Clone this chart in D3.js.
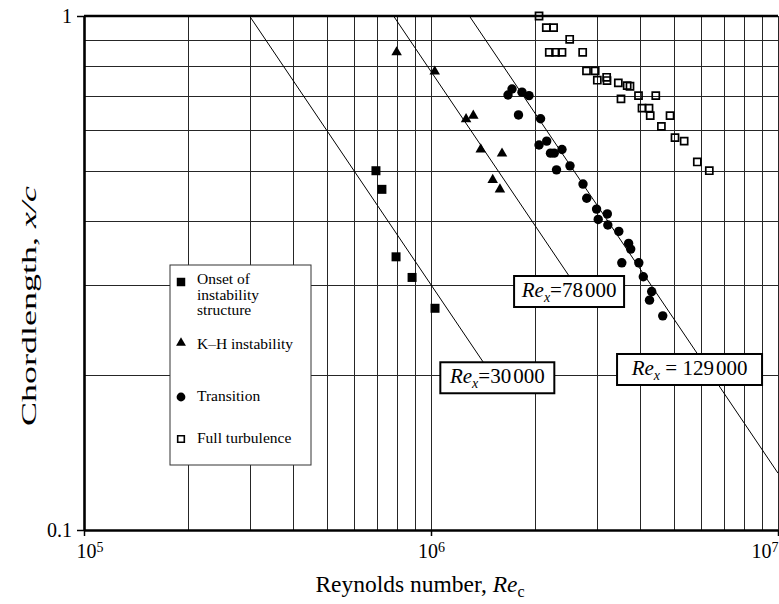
<!DOCTYPE html>
<html>
<head>
<meta charset="utf-8">
<script src="https://cdn.jsdelivr.net/npm/d3@7"></script>
<style>
  html, body { margin: 0; padding: 0; background: #fff; }
  svg { display: block; font-family: "Liberation Serif", "Times New Roman", Times, serif; }
</style>
</head>
<body>
<svg id="chart" width="779" height="604"></svg>
<script>
// ---- data: Reynolds number Re_c and chordwise position x/c for each stage ----
const onsetRe = [6.94e5, 7.22e5, 7.93e5, 8.82e5, 1.027e6];
const onsetXc = [0.50, 0.46, 0.34, 0.31, 0.27];

const khRe = [7.96e5, 1.025e6, 1.262e6, 1.324e6, 1.391e6, 1.602e6, 1.506e6, 1.580e6];
const khXc = [0.85, 0.78, 0.63, 0.64, 0.55, 0.54, 0.48, 0.46];

const transRe = [1.667e6, 1.712e6, 1.829e6, 1.916e6, 1.787e6, 2.069e6, 2.048e6, 2.155e6,
                 2.210e6, 2.265e6, 2.385e6, 2.300e6, 2.515e6, 2.742e6, 2.810e6, 3.000e6,
                 3.222e6, 3.033e6, 3.233e6, 3.477e6, 3.711e6, 3.763e6, 3.547e6, 3.971e6,
                 4.091e6, 4.325e6, 4.263e6, 4.654e6];
const transXc = [0.702, 0.721, 0.711, 0.700, 0.642, 0.631, 0.561, 0.571,
                 0.541, 0.541, 0.550, 0.502, 0.511, 0.471, 0.442, 0.421,
                 0.412, 0.402, 0.392, 0.381, 0.361, 0.352, 0.331, 0.331,
                 0.311, 0.291, 0.280, 0.261];

const turbRe = [2.048e6, 2.149e6, 2.256e6, 2.510e6, 2.192e6, 2.285e6, 2.385e6, 2.736e6,
                2.806e6, 2.973e6, 3.015e6, 3.208e6, 3.215e6, 3.466e6, 3.676e6, 3.745e6,
                3.528e6, 3.963e6, 4.444e6, 4.056e6, 4.249e6, 4.283e6, 4.885e6, 4.613e6,
                5.049e6, 5.365e6, 5.854e6, 6.339e6];
const turbXc = [1.000, 0.949, 0.949, 0.901, 0.850, 0.850, 0.850, 0.850,
                0.782, 0.782, 0.750, 0.760, 0.749, 0.741, 0.732, 0.730,
                0.690, 0.700, 0.700, 0.662, 0.662, 0.640, 0.640, 0.610,
                0.580, 0.571, 0.520, 0.500];

// constant local Reynolds number lines
const reXValues = [30000, 78000, 129000];

// axis ticks and labels
const xTickValues = [1e5, 1e6, 1e7];
const xTickExponents = ["5", "6", "7"];
const yTickValues = [0.1, 1];
const yTickLabels = ["0.1", "1"];

const legendLabels = [["Onset of", "instability", "structure"], ["K\u2013H instability"], ["Transition"], ["Full turbulence"]];

// ---- layout ----
const W = 779, H = 604;
const margin = { top: 16, right: 1, bottom: 74, left: 84 };
const x = d3.scaleLog().domain([1e5, 1e7]).range([margin.left, W - margin.right]);
const y = d3.scaleLog().domain([0.1, 1]).range([H - margin.bottom, margin.top]);
const plotW = x.range()[1] - x.range()[0];
const plotH = y.range()[0] - y.range()[1];
const serif = '"Liberation Serif", "Times New Roman", serif';

const svg = d3.select("#chart");
svg.append("rect").attr("width", W).attr("height", H).attr("fill", "#fff");

svg.append("defs").append("clipPath").attr("id", "plot-clip")
  .append("rect")
  .attr("x", margin.left).attr("y", margin.top)
  .attr("width", plotW).attr("height", plotH);

const gridColor = "#262626";

// vertical grid: 2..9 of every decade plus the decades themselves
svg.append("g")
  .attr("transform", `translate(0,${y.range()[0]})`)
  .call(d3.axisBottom(x).tickValues(x.ticks().filter(v => v > 1.5e5)).tickSize(-plotH).tickFormat(""))
  .call(g => g.select(".domain").remove())
  .call(g => g.selectAll(".tick line").attr("stroke", gridColor).attr("stroke-width", 1)
    .attr("shape-rendering", "crispEdges"));

// horizontal grid: 0.2 .. 0.9
svg.append("g")
  .attr("transform", `translate(${x.range()[0]},0)`)
  .call(d3.axisLeft(y).tickValues(y.ticks().filter(v => v > 0.15 && v < 0.95)).tickSize(-plotW).tickFormat(""))
  .call(g => g.select(".domain").remove())
  .call(g => g.selectAll(".tick line").attr("stroke", gridColor).attr("stroke-width", 1)
    .attr("shape-rendering", "crispEdges"));

// ---- axes ----
const lastX = xTickValues.length - 1;
const xAxis = svg.append("g")
  .attr("transform", `translate(0,${y.range()[0]})`)
  .call(d3.axisBottom(x).tickValues(xTickValues).tickSize(6).tickPadding(8).tickSizeOuter(0).tickFormat(() => "10"));
xAxis.select(".domain").attr("stroke", "#000").attr("stroke-width", 2.6);
xAxis.selectAll(".tick line").attr("stroke", "#000").attr("stroke-width", 1.5);
xAxis.selectAll(".tick text")
  .attr("fill", "#000")
  .style("font-family", serif)
  .style("font-size", "20px")
  .attr("text-anchor", (d, i) => i === 0 ? "start" : (i === lastX ? "end" : "middle"))
  .attr("dx", (d, i) => i === 0 ? -8 : 0)
  .each(function (d, i) {
    d3.select(this).append("tspan")
      .attr("dy", "-0.45em")
      .style("font-size", "14px")
      .text(xTickExponents[i]);
  });

const yAxis = svg.append("g")
  .attr("transform", `translate(${x.range()[0]},0)`)
  .call(d3.axisLeft(y).tickValues(yTickValues).tickSize(7).tickPadding(5).tickSizeOuter(0)
    .tickFormat((d, i) => yTickLabels[i]));
yAxis.select(".domain").attr("stroke", "#000").attr("stroke-width", 2.6);
yAxis.selectAll(".tick line").attr("stroke", "#000").attr("stroke-width", 1.5);
yAxis.selectAll(".tick text")
  .attr("fill", "#000")
  .style("font-family", serif)
  .style("font-size", "20px");

// heavy top frame line
svg.append("line")
  .attr("x1", x.range()[0]).attr("x2", x.range()[1])
  .attr("y1", y(1)).attr("y2", y(1))
  .attr("stroke", "#000").attr("stroke-width", 2.6);

// ---- constant Re_x lines: x/c = lineScale * Re_x / Re_c ----
const lineScale = 10;
const labelHitXc = [0.212, 0.312, 0.22];     // where each label box sits on its line
const labelShift = [14, 0, -8];              // box centre offset from that point (px)
const labelBoxW = [114, 110, 145];
const labelBoxH = 31;
const lineThrough = [false, false, true];    // whether the line carries on past its label
const eqSpaced = [false, false, true];

const lineGen = d3.line().x(d => x(d[0])).y(d => y(d[1]));
const linesG = svg.append("g").attr("clip-path", "url(#plot-clip)");
reXValues.forEach((R, i) => {
  const K = lineScale * R;
  const xcEnd = lineThrough[i] ? K / x.domain()[1] : labelHitXc[i];
  linesG.append("path")
    .attr("d", lineGen([[K, 1], [K / xcEnd, xcEnd]]))
    .attr("fill", "none").attr("stroke", "#000").attr("stroke-width", 1);
});

const labelsG = svg.append("g");
reXValues.forEach((R, i) => {
  const K = lineScale * R;
  const hx = x(K / labelHitXc[i]);
  const hy = y(labelHitXc[i]);
  const cx = hx + labelShift[i];
  const g = labelsG.append("g");
  g.append("rect")
    .attr("x", cx - labelBoxW[i] / 2).attr("y", hy)
    .attr("width", labelBoxW[i]).attr("height", labelBoxH)
    .attr("fill", "#fff").attr("stroke", "#000").attr("stroke-width", 2);
  const t = g.append("text")
    .attr("x", cx).attr("y", hy + 21)
    .attr("text-anchor", "middle")
    .style("font-size", "21px").attr("fill", "#000");
  t.append("tspan").style("font-style", "italic").text("Re");
  t.append("tspan").style("font-style", "italic").style("font-size", "14px").attr("dy", 5).text("x");
  // digit groups separated by a narrow gap
  const groups = d3.format(",")(R).split(",");
  t.append("tspan").attr("dy", -5).text((eqSpaced[i] ? " = " : "=") + groups[0]);
  groups.slice(1).forEach(gr => t.append("tspan").attr("dx", 2).text(gr));
});

// ---- data markers ----
const markG = svg.append("g");
const sym = (type, size) => d3.symbol().type(type).size(size)();

markG.selectAll(".onset").data(d3.zip(onsetRe, onsetXc)).join("path")
  .attr("transform", d => `translate(${x(d[0])},${y(d[1])})`)
  .attr("d", sym(d3.symbolSquare, 81)).attr("fill", "#000");

markG.selectAll(".kh").data(d3.zip(khRe, khXc)).join("path")
  .attr("transform", d => `translate(${x(d[0])},${y(d[1])})`)
  .attr("d", sym(d3.symbolTriangle, 48)).attr("fill", "#000");

markG.selectAll(".trans").data(d3.zip(transRe, transXc)).join("circle")
  .attr("cx", d => x(d[0])).attr("cy", d => y(d[1])).attr("r", 4.7).attr("fill", "#000");

markG.selectAll(".turb").data(d3.zip(turbRe, turbXc)).join("path")
  .attr("transform", d => `translate(${x(d[0])},${y(d[1])})`)
  .attr("d", sym(d3.symbolSquare, 50))
  .attr("fill", "none").attr("stroke", "#000").attr("stroke-width", 1.7);

// ---- legend ----
const leg = svg.append("g").attr("transform", "translate(170,265)");
leg.append("rect").attr("width", 141).attr("height", 200)
  .attr("fill", "#fff").attr("stroke", "#333").attr("stroke-width", 1);

const legMarkY = [17, 78, 132, 174];
const legTextY = [19, 84, 136, 178];
const legMarks = [
  g => g.append("path").attr("d", sym(d3.symbolSquare, 72)).attr("fill", "#000"),
  g => g.append("path").attr("d", sym(d3.symbolTriangle, 42)).attr("fill", "#000"),
  g => g.append("circle").attr("r", 4.4).attr("fill", "#000"),
  g => g.append("path").attr("d", sym(d3.symbolSquare, 44)).attr("fill", "none")
        .attr("stroke", "#000").attr("stroke-width", 1.6)
];
legendLabels.forEach((lines, i) => {
  const m = leg.append("g").attr("transform", `translate(11,${legMarkY[i]})`);
  legMarks[i](m);
  const t = leg.append("text").attr("x", 27).attr("y", legTextY[i])
    .style("font-size", "15.5px").attr("fill", "#000");
  lines.forEach((s, j) => {
    t.append("tspan").attr("x", 27).attr("dy", j === 0 ? 0 : 15.5).text(s);
  });
});

// ---- axis titles ----
const xt = svg.append("text")
  .attr("x", 420).attr("y", 592).attr("text-anchor", "middle")
  .style("font-size", "23.5px").attr("fill", "#000");
xt.append("tspan").text("Reynolds number, ");
xt.append("tspan").style("font-style", "italic").text("Re");
xt.append("tspan").style("font-size", "16px").attr("dy", 5).text("c");

const yt = svg.append("text")
  .attr("transform", "translate(36,306) rotate(-90)")
  .attr("text-anchor", "middle")
  .attr("textLength", 240).attr("lengthAdjust", "spacingAndGlyphs")
  .style("font-size", "22px").attr("fill", "#000");
yt.append("tspan").text("Chordlength, ");
yt.append("tspan").style("font-style", "italic").text("x/c");
</script>
</body>
</html>
